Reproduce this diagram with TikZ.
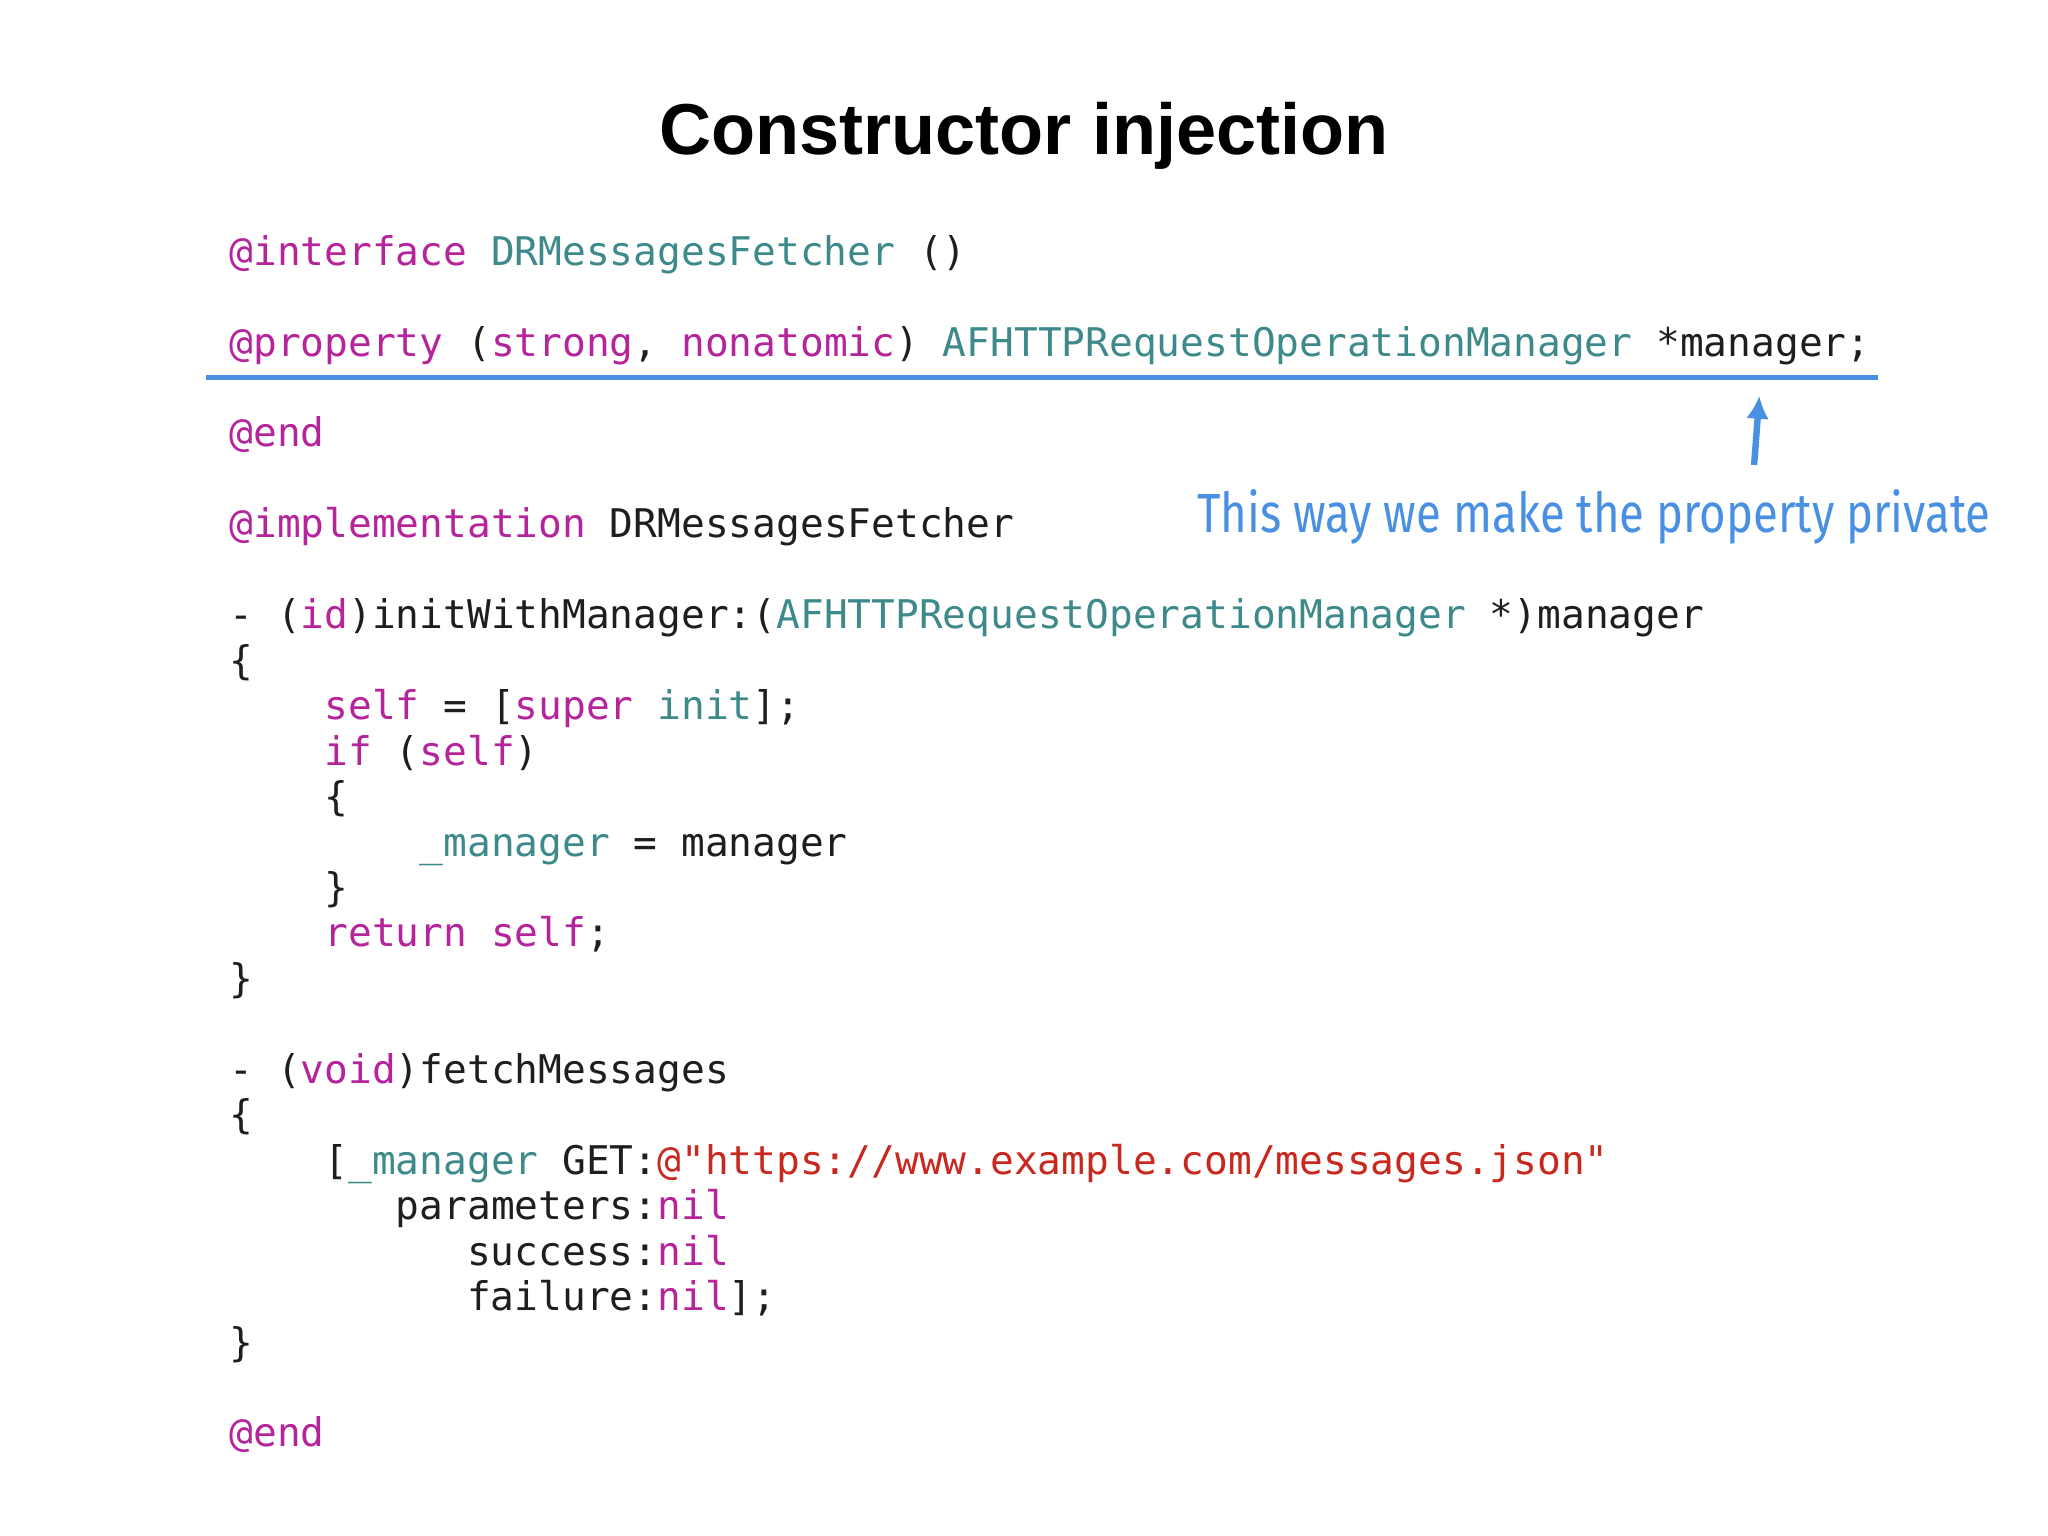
\documentclass[tikz,border=0pt]{standalone}
\usetikzlibrary{arrows.meta}
\usepackage{fontspec}
\setmainfont{Liberation Sans}
\newfontfamily\codefont{DejaVu Sans Mono}
\newfontfamily\handfont{Fira Sans}
\definecolor{kw}{HTML}{B5249B}
\definecolor{cls}{HTML}{3E8A8A}
\definecolor{str}{HTML}{C8281E}
\definecolor{ink}{HTML}{1E1E1E}
\definecolor{note}{HTML}{4A90E2}
\newcommand{\K}[1]{\textcolor{kw}{#1}}
\newcommand{\C}[1]{\textcolor{cls}{#1}}
\newcommand{\Sx}[1]{\textcolor{str}{#1}}
\begin{document}
\begin{tikzpicture}[x=0.01cm,y=-0.01cm,
  code/.style={anchor=base west,inner sep=0,font=\codefont\fontsize{8.6pt}{10pt}\selectfont,text=ink}]
\useasboundingbox (0,0) rectangle (1568,1176);
\node[anchor=base,font=\bfseries\fontsize{15.7pt}{18pt}\selectfont] (title) at (784,118) {Constructor injection};
\def\ln#1#2#3{\node[code] (l#1) at (175+18.2*#2,{203+34.8*#1}) {#3};}
\ln{0}{0}{\K{@interface} \C{DRMessagesFetcher} ()}
\ln{2}{0}{\K{@property} (\K{strong}, \K{nonatomic}) \C{AFHTTPRequestOperationManager} *manager;}
\ln{4}{0}{\K{@end}}
\ln{6}{0}{\K{@implementation} DRMessagesFetcher}
\ln{8}{0}{- (\K{id})initWithManager:(\C{AFHTTPRequestOperationManager} *)manager}
\ln{9}{0}{\{}
\ln{10}{4}{\K{self} = [\K{super} \C{init}];}
\ln{11}{4}{\K{if} (\K{self})}
\ln{12}{4}{\{}
\ln{13}{8}{\C{\_manager} = manager}
\ln{14}{4}{\}}
\ln{15}{4}{\K{return} \K{self};}
\ln{16}{0}{\}}
\ln{18}{0}{- (\K{void})fetchMessages}
\ln{19}{0}{\{}
\ln{20}{4}{[\C{\_manager} GET:\Sx{@"https://www.example.com/messages.json"}}
\ln{21}{7}{parameters:\K{nil}}
\ln{22}{10}{success:\K{nil}}
\ln{23}{10}{failure:\K{nil}];}
\ln{24}{0}{\}}
\ln{26}{0}{\K{@end}}
\coordinate (ulA) at (158,289);
\coordinate (ulB) at (1438,289);
\draw[note,line width=1.2pt] (ulA) -- (ulB);
\node[anchor=base west,inner sep=0,text=note,font=\handfont\fontsize{12pt}{14pt}\selectfont,xscale=0.825] (annot) at (916,408) {This way we make the property private};
\coordinate (arT) at (1347,303);
\coordinate (arB) at (1343,356);
\draw[note,line width=1.4pt,-{Latex[length=5pt,width=5pt]}] (arB) -- (arT);
\end{tikzpicture}
\end{document}
